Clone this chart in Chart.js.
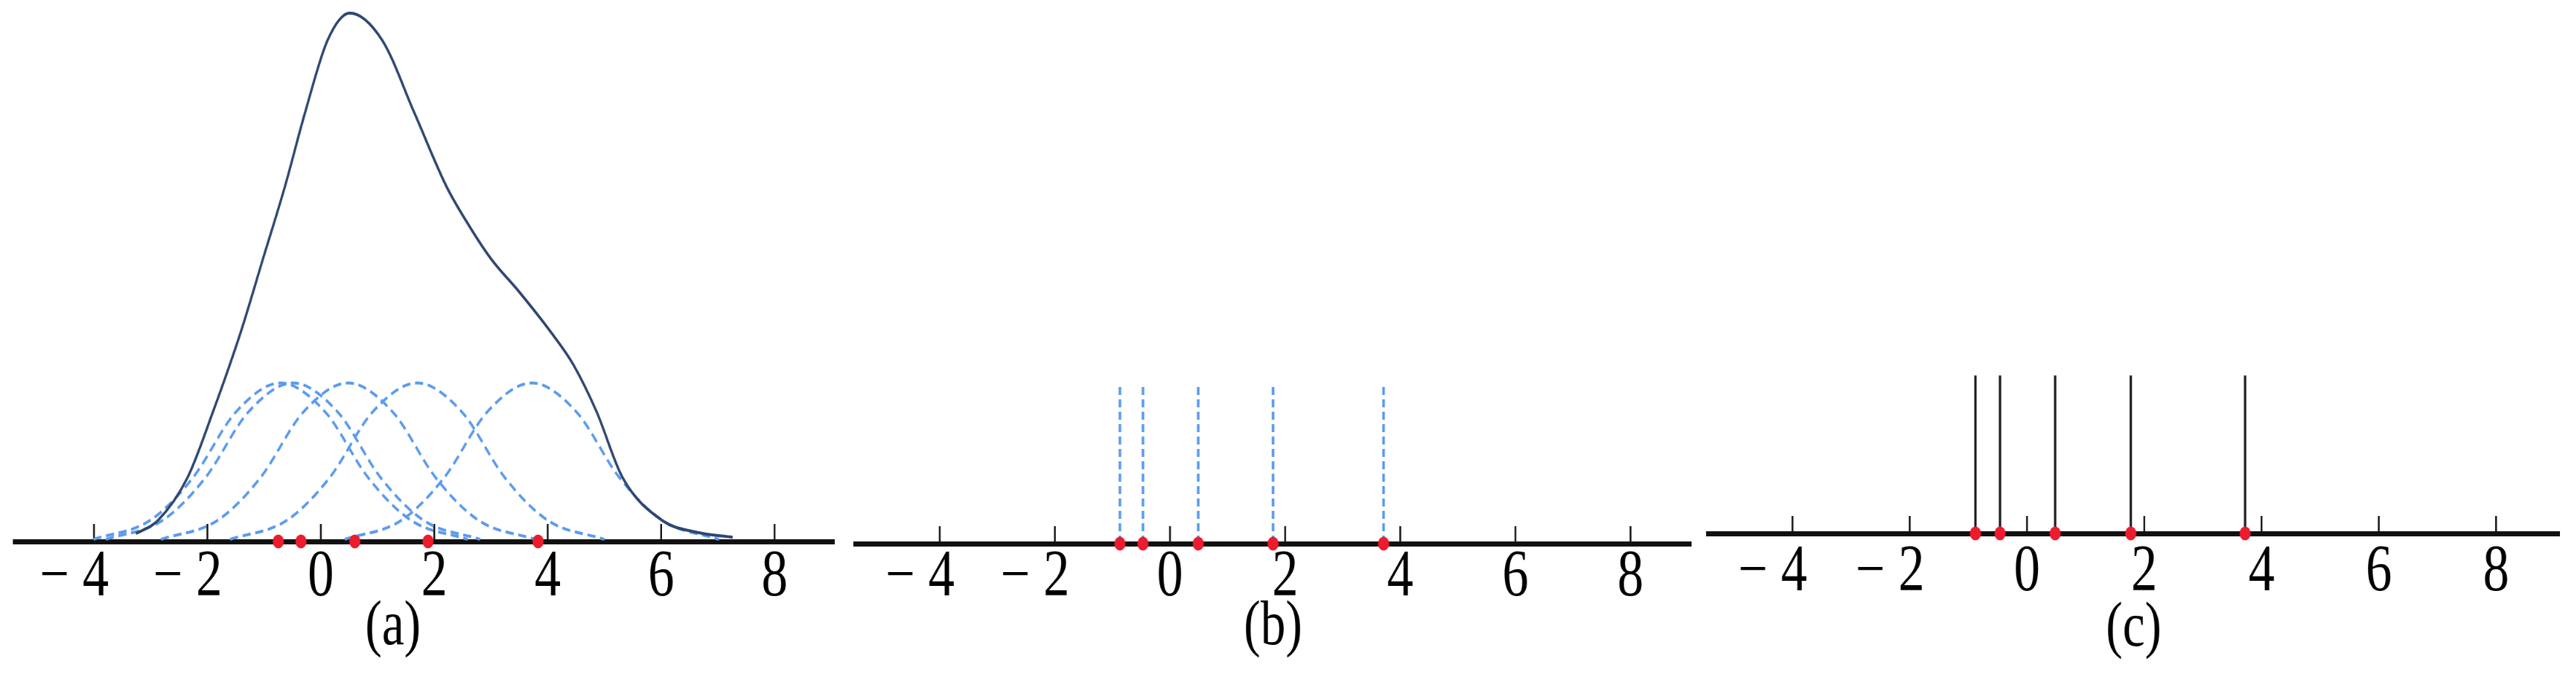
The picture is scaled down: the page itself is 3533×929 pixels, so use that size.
<!DOCTYPE html>
<html>
<head>
<meta charset="utf-8">
<script src="https://cdn.jsdelivr.net/npm/chart.js@4.4.1/dist/chart.umd.min.js"></script>
<style>
  html, body { margin: 0; padding: 0; background: #fff; }
  body { width: 3533px; height: 929px; position: relative; overflow: hidden; }
  /* the original figure is squeezed sideways, so each panel is drawn wider and scaled back */
  .panel { position: absolute; top: 0; transform: scaleX(0.8); transform-origin: 0 0; }
</style>
</head>
<body>
<div class="panel" style="left:0px"><canvas id="chartA" width="1450" height="929"></canvas></div>
<div class="panel" style="left:1160px"><canvas id="chartB" width="1473" height="929"></canvas></div>
<div class="panel" style="left:2335px"><canvas id="chartC" width="1498" height="929"></canvas></div>
<script>
const tickValues = [-4, -2, 0, 2, 4, 6, 8];

// (a) density estimate, solid curve
const kdeX = [-3.26, -2.88, -2.35, -1.90, -1.41, -1.02, -0.63, -0.28, 0.12, 0.51, 1.08, 1.65, 2.21, 2.60, 3.00, 3.50, 4.05, 4.45, 4.86, 5.32, 6.03, 6.60, 7.26];
const kdeY = [0.015, 0.039, 0.121, 0.246, 0.397, 0.535, 0.673, 0.811, 0.949, 1.0, 0.949, 0.811, 0.673, 0.600, 0.535, 0.472, 0.397, 0.335, 0.246, 0.121, 0.039, 0.018, 0.008];

// (a) one dashed kernel per sample
const kernelY = [0.004, 0.04, 0.12, 0.246, 0.3, 0.246, 0.12, 0.04, 0.004];
const kernel1X = [-4.01, -3.01, -2.26, -1.49, -0.71, 0.07, 0.84, 1.59, 2.59];
const kernel2X = [-3.79, -2.79, -2.04, -1.27, -0.49, 0.29, 1.06, 1.81, 2.81];
const kernel3X = [-2.82, -1.82, -1.07, -0.30, 0.48, 1.26, 2.03, 2.78, 3.78];
const kernel4X = [-1.60, -0.60, 0.15, 0.92, 1.70, 2.48, 3.25, 4.00, 5.00];
const kernel5X = [0.42, 1.42, 2.17, 2.94, 3.72, 4.50, 5.27, 6.02, 7.02];

// red sample points as they sit in each panel
const samplesA = [-0.75, -0.35, 0.60, 1.89, 3.83];
const samplesB = [-0.87, -0.47, 0.49, 1.79, 3.71];
const samplesC = [-0.88, -0.46, 0.48, 1.77, 3.72];
const spikeHeight = 0.3;

const red = '#ec1b2d';
const blue = '#5b9bee';
const navy = '#2d4670';
const serif = 'Liberation Serif';

const pts = (xs, ys) => xs.map((x, i) => ({ x, y: ys[i] }));

// short tick marks standing up from the axis line
const upTicks = {
  id: 'upTicks',
  beforeDatasetsDraw(chart) {
    const sx = chart.scales.x;
    const bottom = chart.chartArea.bottom;
    const ctx = chart.ctx;
    ctx.save();
    ctx.strokeStyle = '#111';
    ctx.lineWidth = 3;
    sx.ticks.forEach(t => {
      const px = sx.getPixelForValue(t.value);
      ctx.beginPath();
      ctx.moveTo(px, bottom);
      ctx.lineTo(px, bottom - 24);
      ctx.stroke();
    });
    ctx.restore();
  }
};

function xAxis(min, max, title, tickPad, titlePad) {
  return {
    type: 'linear',
    min, max,
    afterBuildTicks: s => { s.ticks = tickValues.map(v => ({ value: v })); },
    grid: { display: true, drawOnChartArea: false, drawTicks: false, color: 'rgba(0,0,0,0)' },
    border: { display: true, color: '#111', width: 7 },
    ticks: {
      padding: tickPad,
      color: '#000',
      maxRotation: 0,
      autoSkip: false,
      font: { family: serif, size: 90, lineHeight: 1.0 },
      // keep the digit under the tick, the minus hangs to the left
      callback: v => v < 0 ? '\u2212 ' + Math.abs(v) + '   ' : String(v)
    },
    title: {
      display: true,
      text: title,
      color: '#000',
      font: { family: serif, size: 86, lineHeight: 0.4186 },
      padding: titlePad
    }
  };
}

function makeChart(id, datasets, x, pad) {
  return new Chart(document.getElementById(id), {
    type: 'scatter',
    data: { datasets },
    options: {
      responsive: false,
      devicePixelRatio: 1,
      animation: false,
      events: [],
      layout: { padding: pad },
      scales: {
        x,
        y: { display: false, min: 0, max: 1 }
      },
      plugins: { legend: { display: false }, tooltip: { enabled: false } }
    },
    plugins: [upTicks]
  });
}

const dots = xs => ({
  data: xs.map(x => ({ x, y: 0 })),
  pointRadius: 9.5,
  pointBackgroundColor: red,
  pointBorderWidth: 0,
  clip: false
});

const kernelLine = xs => ({
  data: pts(xs, kernelY),
  showLine: true,
  borderColor: blue,
  borderWidth: 4,
  borderDash: [14, 8],
  pointRadius: 0,
  cubicInterpolationMode: 'monotone',
  clip: false
});

// (a)
makeChart('chartA', [
  dots(samplesA),
  {
    data: pts(kdeX, kdeY),
    showLine: true,
    borderColor: navy,
    borderWidth: 4,
    pointRadius: 0,
    cubicInterpolationMode: 'monotone',
    clip: false
  },
  kernelLine(kernel1X),
  kernelLine(kernel2X),
  kernelLine(kernel3X),
  kernelLine(kernel4X),
  kernelLine(kernel5X)
], xAxis(-5.40, 9.05, '(a)     ', 5, { top: 0, bottom: 50 }), { left: 25, right: 20, top: 18, bottom: 0 });

// (b)
makeChart('chartB', [
  dots(samplesB),
  ...samplesB.map(s => ({
    data: [{ x: s, y: 0 }, { x: s, y: spikeHeight }],
    showLine: true,
    borderColor: blue,
    borderWidth: 4.5,
    borderDash: [11, 6],
    pointRadius: 0,
    clip: false
  }))
], xAxis(-5.47, 9.05, '(b)', 2, { top: 3, bottom: 50 }), { left: 16, right: 24, top: 21, bottom: 0 });

// (c)
makeChart('chartC', [
  dots(samplesC),
  ...samplesC.map(s => ({
    data: [{ x: s, y: 0 }, { x: s, y: spikeHeight }],
    showLine: true,
    borderColor: '#1c1c1c',
    borderWidth: 4,
    pointRadius: 0,
    clip: false
  }))
], xAxis(-5.44, 9.08, '(c)', 9, { top: 5, bottom: 48 }), { left: 5, right: 29, top: 7, bottom: 0 });
</script>
</body>
</html>
